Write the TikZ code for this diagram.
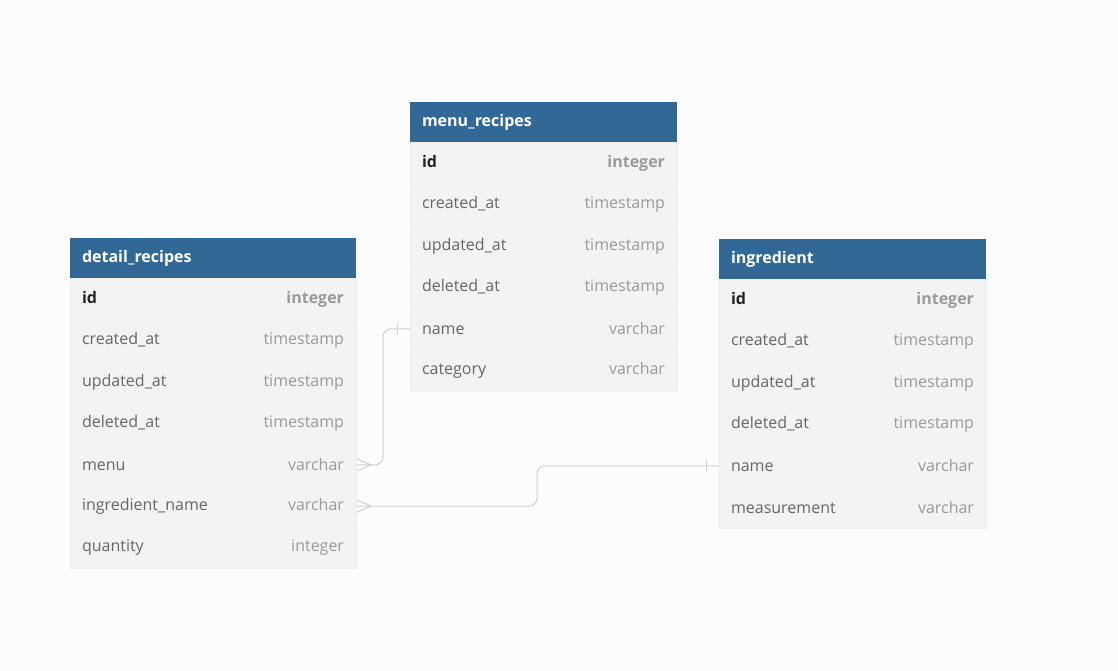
\documentclass[tikz,border=0pt]{standalone}
\usepackage{fontspec}
\setmainfont{Open Sans}
\usetikzlibrary{positioning}
\definecolor{headblue}{HTML}{316896}
\definecolor{rowfill}{HTML}{F3F3F3}
\definecolor{rowline}{HTML}{EEEEEE}
\definecolor{namegray}{HTML}{666666}
\definecolor{typegray}{HTML}{9A9A9A}
\definecolor{keyblack}{HTML}{222222}
\definecolor{linkgray}{HTML}{D0D0D0}
\definecolor{bggray}{HTML}{FCFCFC}

\begin{document}
\begin{tikzpicture}[x=1pt,y=-1pt,
    tabhead/.style={rectangle,fill=headblue,text=white,anchor=north west,
		font=\fontsize{16}{19}\selectfont\bfseries,inner xsep=12pt,inner ysep=0pt,
		outer sep=0pt,minimum height=40.5pt,text width=#1,align=left},
    tabrow/.style={rectangle,fill=rowfill,draw=rowline,text=namegray,
		font=\fontsize{16}{19}\selectfont,inner xsep=12pt,inner ysep=0pt,
		outer sep=0pt,minimum height=41.4pt,text width=#1,align=left},
    keyrow/.style={tabrow=#1,font=\fontsize{16}{19}\selectfont\bfseries,text=keyblack},
% Link style
    link/.style={draw=linkgray,line width=1pt,rounded corners=8pt},
    endmark/.style={draw=linkgray,line width=1pt}
    ]
    \fill [bggray] (0,0) rectangle (1118,671);
    \useasboundingbox (0,0) rectangle (1118,671);

    % detail_recipes
    \node [tabhead=262pt] (dr) at (70,238) {detail\_recipes};
    \node [keyrow=262pt, below=0pt of dr] (dr-id) {id\hfill\textcolor{typegray}{integer}};
    \node [tabrow=262pt, below=0pt of dr-id] (dr-created) {created\_at\hfill\textcolor{typegray}{timestamp}};
    \node [tabrow=262pt, below=0pt of dr-created] (dr-updated) {updated\_at\hfill\textcolor{typegray}{timestamp}};
    \node [tabrow=262pt, below=0pt of dr-updated] (dr-deleted) {deleted\_at\hfill\textcolor{typegray}{timestamp}};
    \node [tabrow=262pt, below=0pt of dr-deleted] (dr-menu) {menu\hfill\textcolor{typegray}{varchar}};
    \node [tabrow=262pt, below=0pt of dr-menu] (dr-ingr) {ingredient\_name\hfill\textcolor{typegray}{varchar}};
    \node [tabrow=262pt, below=0pt of dr-ingr] (dr-qty) {quantity\hfill\textcolor{typegray}{integer}};

    % menu_recipes
    \node [tabhead=243pt] (mr) at (410,102) {menu\_recipes};
    \node [keyrow=243pt, below=0pt of mr] (mr-id) {id\hfill\textcolor{typegray}{integer}};
    \node [tabrow=243pt, below=0pt of mr-id] (mr-created) {created\_at\hfill\textcolor{typegray}{timestamp}};
    \node [tabrow=243pt, below=0pt of mr-created] (mr-updated) {updated\_at\hfill\textcolor{typegray}{timestamp}};
    \node [tabrow=243pt, below=0pt of mr-updated] (mr-deleted) {deleted\_at\hfill\textcolor{typegray}{timestamp}};
    \node [tabrow=243pt, below=0pt of mr-deleted] (mr-name) {name\hfill\textcolor{typegray}{varchar}};
    \node [tabrow=243pt, below=0pt of mr-name] (mr-cat) {category\hfill\textcolor{typegray}{varchar}};

    % ingredient
    \node [tabhead=243pt] (in) at (719,239) {ingredient};
    \node [keyrow=243pt, below=0pt of in] (in-id) {id\hfill\textcolor{typegray}{integer}};
    \node [tabrow=243pt, below=0pt of in-id] (in-created) {created\_at\hfill\textcolor{typegray}{timestamp}};
    \node [tabrow=243pt, below=0pt of in-created] (in-updated) {updated\_at\hfill\textcolor{typegray}{timestamp}};
    \node [tabrow=243pt, below=0pt of in-updated] (in-deleted) {deleted\_at\hfill\textcolor{typegray}{timestamp}};
    \node [tabrow=243pt, below=0pt of in-deleted] (in-name) {name\hfill\textcolor{typegray}{varchar}};
    \node [tabrow=243pt, below=0pt of in-name] (in-meas) {measurement\hfill\textcolor{typegray}{varchar}};

    % Draw links
    \draw [link] (dr-menu.east) -- ([xshift=27pt]dr-menu.east) |- (mr-name.west);
    \draw [link] (dr-ingr.east) -- ([xshift=181pt]dr-ingr.east) |- (in-name.west);

    % many ends
    \draw [endmark] ([xshift=1pt,yshift=-6pt]dr-menu.east) -- ([xshift=15pt]dr-menu.east)
		-- ([xshift=1pt,yshift=6pt]dr-menu.east);
    \draw [endmark] ([xshift=1pt,yshift=-6pt]dr-ingr.east) -- ([xshift=15pt]dr-ingr.east)
		-- ([xshift=1pt,yshift=6pt]dr-ingr.east);
    % one ends
    \draw [endmark] ([xshift=-13pt,yshift=-6pt]mr-name.west) -- ([xshift=-13pt,yshift=6pt]mr-name.west);
    \draw [endmark] ([xshift=-13pt,yshift=-6pt]in-name.west) -- ([xshift=-13pt,yshift=6pt]in-name.west);

\end{tikzpicture}
\end{document}
